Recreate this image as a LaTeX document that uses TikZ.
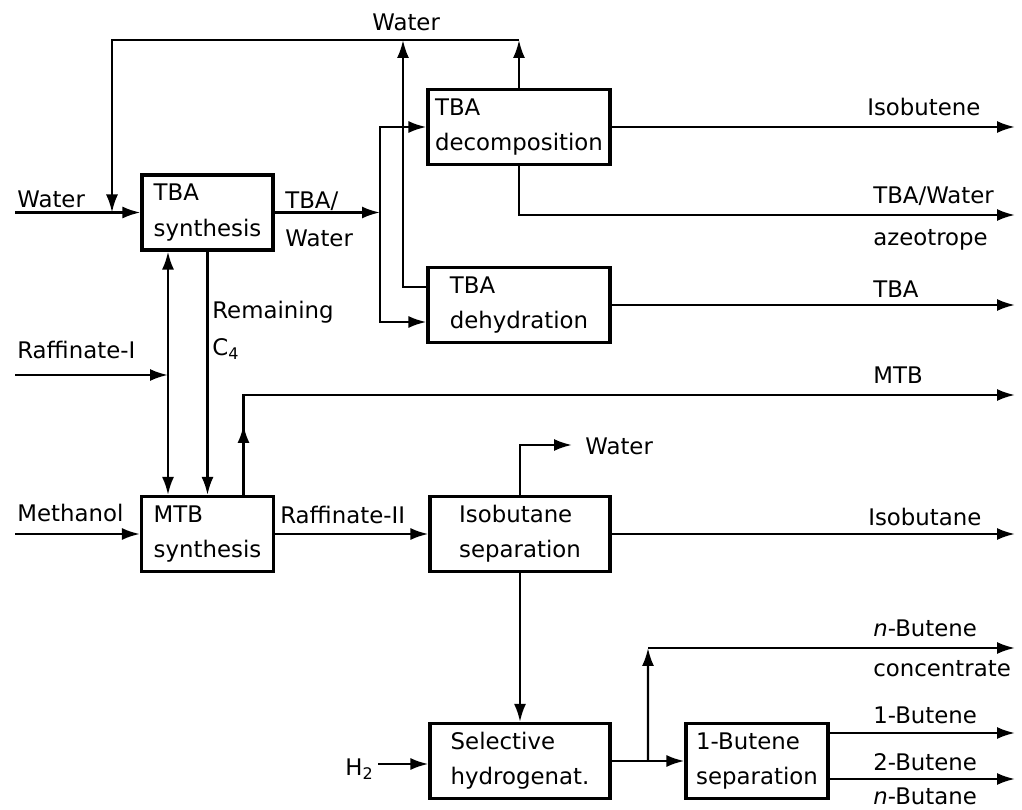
\documentclass[tikz,border=0pt]{standalone}
\usepackage{fontspec}
\setmainfont{DejaVu Sans}
\usetikzlibrary{arrows.meta, positioning, calc}

\begin{document}
\begin{tikzpicture}[
        x=0.02cm, y=-0.02cm,
        unit/.style={rectangle, draw=black, line width=1.8pt, minimum height=1.5cm, align=left, font=\fontsize{13}{20}\selectfont},
        flow/.style={-{Latex[length=3.6mm, width=2.4mm]}, line width=1.4pt},
        twoway/.style={{Latex[length=3.6mm, width=2.4mm]}-{Latex[length=3.6mm, width=2.4mm]}, line width=1.4pt},
        stream/.style={font=\fontsize{13}{16}\selectfont, inner sep=0pt, anchor=west, text height=9.5pt, text depth=0pt}
    ]
        \useasboundingbox (0,0) rectangle (1022,810);

        % Process units
        \node[unit, minimum width=2.62cm] (tbasyn) at (207.5,212.5) {TBA\\synthesis};
        \node[unit, minimum width=3.64cm] (tbadec) at (519,127) {TBA\\decomposition};
        \node[unit, minimum width=3.64cm] (tbadeh) at (519,305) {TBA\\dehydration};
        \node[unit, minimum width=2.64cm] (mtbsyn) at (207.5,534) {MTB\\synthesis};
        \node[unit, minimum width=3.6cm] (isosep) at (520,534) {Isobutane\\separation};
        \node[unit, minimum width=3.6cm] (selhyd) at (520,761) {Selective\\hydrogenat.};
        \node[unit, minimum width=2.84cm] (butsep) at (757,761) {1-Butene\\separation};

        % Feed points, junctions and outlet line
        \coordinate (outx) at (1015,0);
        \coordinate (waterin) at (15,212.5);
        \coordinate (recycle) at (112,212.5);
        \coordinate (topwater) at (519,40);
        \coordinate (dehwater) at (403,40);
        \coordinate (split) at (380,212.5);
        \coordinate (azeo) at (1015,215);
        \coordinate (raf1) at (15,375);
        \coordinate (dbltop) at ($(tbasyn.south)+(-39.5,0)$);
        \coordinate (dblbot) at ($(mtbsyn.north)+(-39.5,0)$);
        \coordinate (mtbup) at ($(mtbsyn.north)+(36,0)$);
        \coordinate (mtbout) at (1015,395);
        \coordinate (meoh) at (15,534);
        \coordinate (isowater) at (572,445);
        \coordinate (htwo) at (378,764);
        \coordinate (nbsplit) at ($(selhyd.east)!0.5!(butsep.west)$);
        \coordinate (nbcorner) at (648,648);
        \coordinate (b1) at ($(butsep.east)+(0,-28)$);
        \coordinate (b2) at ($(butsep.east)+(0,18)$);

        % TBA part
        \draw[flow] (waterin) -- (tbasyn.west);
        \draw[flow] (tbadec.north) -- (topwater);
        \draw[flow] ($(tbadeh.west)+(0,-18)$) -| (dehwater);
        \draw[flow] (topwater) -| (recycle);
        \draw[flow] (tbasyn.east) -- (split);
        \draw[flow] (split) |- (tbadec.west);
        \draw[flow] (split) |- ($(tbadeh.west)+(0,17)$);
        \draw[flow] (tbadec.east) -- (tbadec.east -| outx);
        \draw[flow] (tbadec.south) |- (azeo);
        \draw[flow] (tbadeh.east) -- (tbadeh.east -| outx);

        % MTB part
        \draw[flow] (raf1) -- (raf1 -| dbltop);
        \draw[twoway] (dbltop) -- (dblbot);
        \draw[flow] (tbasyn.south) -- (tbasyn.south |- mtbsyn.north);
        \draw[flow] (meoh) -- (mtbsyn.west);
        \draw[flow] (mtbup) -- ++(0,-70);
        \draw[flow] (mtbup) |- (mtbout);
        \draw[flow] (mtbsyn.east) -- (isosep.west);

        % C4 work-up
        \draw[flow] (isosep.north) |- (isowater);
        \draw[flow] (isosep.east) -- (isosep.east -| outx);
        \draw[flow] (isosep.south) -- (selhyd.north);
        \draw[flow] (htwo) -- (htwo -| selhyd.west);
        \draw[flow] (selhyd.east) -- (butsep.west);
        \draw[flow] (nbsplit) -- (nbcorner);
        \draw[flow] (nbcorner) -- (nbcorner -| outx);
        \draw[flow] (b1) -- (b1 -| outx);
        \draw[flow] (b2) -- (b2 -| outx);

        % Stream labels
        \node[stream] (lwatertop) at (372,22) {Water};
        \node[stream] (lwaterin) at (17,199) {Water};
        \node[stream] (ltba) at (285,200) {TBA/};
        \node[stream] (ltbawater) at (285,238) {Water};
        \node[stream] (lremain) at (212,310) {Remaining};
        \node[stream] (lcfour) at (212,347) {C\textsubscript{4}};
        \node[stream] (lrafone) at (17,350) {Raffinate-I};
        \node[stream] (lmeoh) at (17,513) {Methanol};
        \node[stream] (lraftwo) at (280,515) {Raffinate-II};
        \node[stream] (lisowater) at (585,446) {Water};
        \node[stream] (lhtwo) at (345,767) {H\textsubscript{2}};
        \node[stream] (lisobutene) at (867,107) {Isobutene};
        \node[stream] (lazeo) at (873,195) {TBA/Water};
        \node[stream] (lazeotwo) at (873,237) {azeotrope};
        \node[stream] (ltbaout) at (873,289) {TBA};
        \node[stream] (lmtb) at (873,375) {MTB};
        \node[stream] (lisobutane) at (868,517) {Isobutane};
        \node[stream] (lnbutene) at (873,628) {\textit{n}-Butene};
        \node[stream] (lconc) at (873,668) {concentrate};
        \node[stream] (lonebut) at (873,715) {1-Butene};
        \node[stream] (ltwobut) at (873,762) {2-Butene};
        \node[stream] (lnbutane) at (873,796) {\textit{n}-Butane};
\end{tikzpicture}
\end{document}
